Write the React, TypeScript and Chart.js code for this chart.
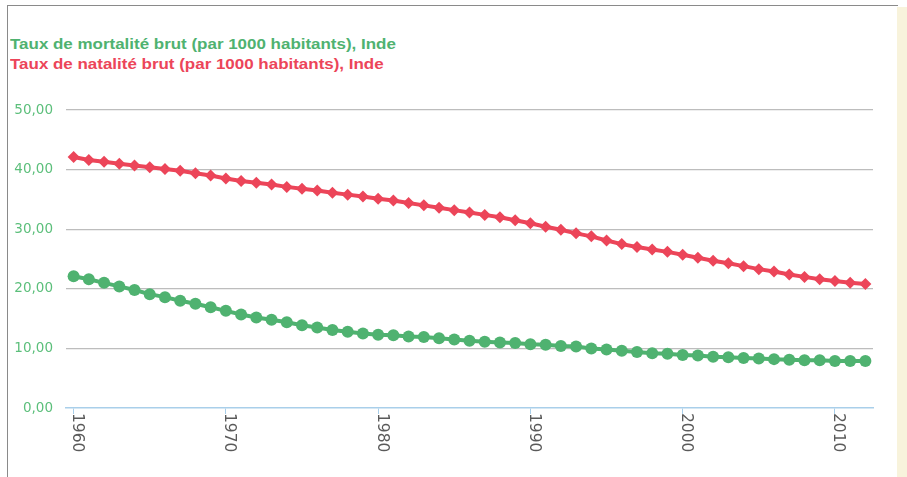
import React, { useEffect, useRef } from "react";
import { Chart, registerables } from "chart.js";

Chart.register(...registerables);

const years: string[] = [
  "1960", "1961", "1962", "1963", "1964", "1965", "1966", "1967", "1968", "1969",
  "1970", "1971", "1972", "1973", "1974", "1975", "1976", "1977", "1978", "1979",
  "1980", "1981", "1982", "1983", "1984", "1985", "1986", "1987", "1988", "1989",
  "1990", "1991", "1992", "1993", "1994", "1995", "1996", "1997", "1998", "1999",
  "2000", "2001", "2002", "2003", "2004", "2005", "2006", "2007", "2008", "2009",
  "2010", "2011", "2012",
];

const mortalityRate: number[] = [
  22.1, 21.6, 21.0, 20.4, 19.8, 19.1, 18.6, 18.0, 17.5, 16.9,
  16.3, 15.7, 15.2, 14.8, 14.4, 13.9, 13.5, 13.1, 12.8, 12.5,
  12.3, 12.2, 12.0, 11.9, 11.7, 11.5, 11.3, 11.1, 11.0, 10.9,
  10.7, 10.6, 10.4, 10.3, 10.0, 9.8, 9.6, 9.4, 9.2, 9.1,
  8.9, 8.8, 8.6, 8.5, 8.4, 8.3, 8.2, 8.1, 8.0, 8.0,
  7.9, 7.9, 7.9,
];

const birthRate: number[] = [
  42.1, 41.6, 41.3, 41.0, 40.7, 40.4, 40.1, 39.8, 39.4, 39.0,
  38.5, 38.1, 37.8, 37.5, 37.1, 36.8, 36.5, 36.1, 35.8, 35.5,
  35.1, 34.8, 34.4, 34.0, 33.6, 33.2, 32.8, 32.4, 32.0, 31.5,
  31.0, 30.4, 29.9, 29.3, 28.8, 28.1, 27.5, 27.0, 26.6, 26.2,
  25.7, 25.2, 24.7, 24.3, 23.8, 23.3, 22.9, 22.4, 22.0, 21.6,
  21.3, 21.0, 20.8,
];

const xTickLabels: string[] = ["1960", "1970", "1980", "1990", "2000", "2010"];
const yTickValues: number[] = [0, 10, 20, 30, 40, 50];

const seriesNames: string[] = [
  "Taux de mortalité brut (par 1000 habitants), Inde",
  "Taux de natalité brut (par 1000 habitants), Inde",
];

const GREEN = "#4fb270";
const RED = "#ec4559";
const AXIS_BLUE = "#a9cfea";

export default function App() {
  const canvasRef = useRef<HTMLCanvasElement | null>(null);

  useEffect(() => {
    const canvas = canvasRef.current;
    if (!canvas) return;

    const xLabelPlugin = {
      id: "rotatedXLabels",
      afterDraw(chart: any) {
        const ctx = chart.ctx as CanvasRenderingContext2D;
        const xScale = chart.scales.x;
        const bottom = chart.chartArea.bottom;
        ctx.save();
        ctx.fillStyle = "#5a5a5a";
        ctx.font = '15.5px "DejaVu Sans", sans-serif';
        ctx.textAlign = "left";
        ctx.textBaseline = "alphabetic";
        years.forEach((label, i) => {
          if (!xTickLabels.includes(label)) return;
          const x = xScale.getPixelForValue(i);
          ctx.save();
          ctx.translate(x, bottom + 5);
          ctx.rotate(Math.PI / 2);
          ctx.fillText(label, 0, 0.5);
          ctx.restore();
        });
        ctx.restore();
      },
    };

    const chart = new Chart(canvas, {
      type: "line",
      data: {
        labels: years,
        datasets: [
          {
            label: seriesNames[0],
            data: mortalityRate,
            borderColor: GREEN,
            backgroundColor: GREEN,
            borderWidth: 4,
            pointStyle: "circle",
            pointRadius: 6,
            pointBorderWidth: 0,
            pointBackgroundColor: GREEN,
            tension: 0,
          },
          {
            label: seriesNames[1],
            data: birthRate,
            borderColor: RED,
            backgroundColor: RED,
            borderWidth: 4,
            pointStyle: "rectRot",
            pointRadius: 6,
            pointBorderWidth: 0,
            pointBackgroundColor: RED,
            tension: 0,
          },
        ],
      },
      options: {
        responsive: false,
        animation: false,
        events: [],
        layout: { padding: { left: 8, top: 110, right: 34, bottom: 29 } },
        plugins: {
          legend: { display: false },
          tooltip: { enabled: false },
          title: { display: false },
        },
        scales: {
          x: {
            type: "category",
            offset: true,
            grid: {
              display: true,
              drawOnChartArea: false,
              drawTicks: true,
              tickLength: 6,
              color: (ctx: any) =>
                xTickLabels.includes(years[ctx.index]) ? AXIS_BLUE : "rgba(0,0,0,0)",
            },
            border: { display: true, color: AXIS_BLUE, width: 1.5 },
            ticks: { display: false, autoSkip: false },
            afterFit: (scale: any) => {
              scale.height = 40;
            },
          },
          y: {
            min: 0,
            max: 50,
            afterBuildTicks: (scale: any) => {
              scale.ticks = yTickValues.map((v) => ({ value: v }));
            },
            grid: {
              drawTicks: false,
              color: (ctx: any) => (ctx.tick && ctx.tick.value === 0 ? "rgba(0,0,0,0)" : "#bdbdbd"),
              lineWidth: 1.2,
            },
            border: { display: false },
            ticks: {
              padding: 13,
              color: "#5cbf7b",
              font: { family: '"DejaVu Sans", sans-serif', size: 13.5 },
              callback: (v: any) => Number(v).toFixed(2).replace(".", ","),
            },
            afterFit: (scale: any) => {
              scale.width = 58;
            },
          },
        },
      },
      plugins: [xLabelPlugin],
    });

    return () => {
      chart.destroy();
    };
  }, []);

  return (
    <div
      style={{
        position: "absolute",
        left: 0,
        top: 0,
        width: 907,
        height: 477,
        background: "#ffffff",
        overflow: "hidden",
      }}
    >
      <div
        style={{
          position: "absolute",
          left: 7,
          top: 5,
          width: 890,
          height: 480,
          borderLeft: "1.5px solid #8a8a8a",
          borderTop: "1.5px solid #8a8a8a",
        }}
      />
      <div
        style={{
          position: "absolute",
          left: 897,
          top: 7,
          width: 10,
          height: 470,
          background: "#f8f3dc",
        }}
      />
      <div
        style={{
          position: "absolute",
          left: 10,
          top: 34,
          font: 'bold 15px "Liberation Sans", Arial, sans-serif',
          lineHeight: "20px",
          whiteSpace: "nowrap",
          transform: "scaleX(1.13)",
          transformOrigin: "0 0",
        }}
      >
        <div style={{ color: GREEN }}>{seriesNames[0]}</div>
        <div style={{ color: RED }}>{seriesNames[1]}</div>
      </div>
      <canvas
        ref={canvasRef}
        width={907}
        height={477}
        style={{ position: "absolute", left: 0, top: 0, width: 907, height: 477 }}
      />
    </div>
  );
}
